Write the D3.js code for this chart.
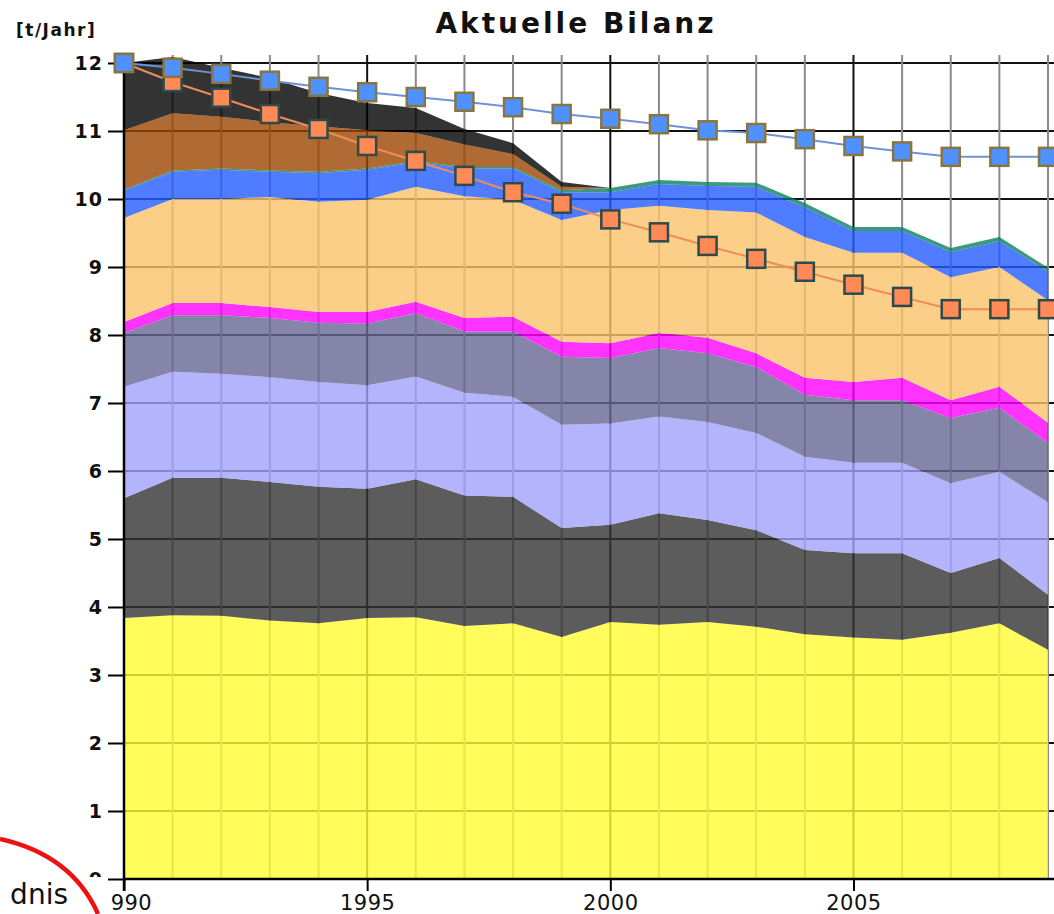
<!DOCTYPE html>
<html>
<head>
<meta charset="utf-8">
<script src="https://cdn.jsdelivr.net/npm/d3@7/dist/d3.min.js"></script>
<style>
  html, body { margin: 0; padding: 0; background: #fff; overflow: hidden; }
  svg { display: block; }
</style>
</head>
<body>
<div id="chart"></div>
<script>
// Data (t/Jahr), 1990 - 2009
var years = d3.range(1990, 2010);

var yellowVals  = [3.84, 3.88, 3.87, 3.80, 3.76, 3.84, 3.85, 3.72, 3.76, 3.56, 3.78, 3.74, 3.78, 3.71, 3.60, 3.55, 3.52, 3.62, 3.76, 3.37];
var darkVals    = [1.76, 2.02, 2.03, 2.04, 2.01, 1.90, 2.03, 1.92, 1.86, 1.60, 1.43, 1.64, 1.50, 1.42, 1.24, 1.24, 1.27, 0.88, 0.96, 0.81];
var lavVals     = [1.64, 1.56, 1.53, 1.54, 1.54, 1.52, 1.51, 1.51, 1.47, 1.52, 1.49, 1.42, 1.44, 1.43, 1.37, 1.33, 1.33, 1.32, 1.27, 1.36];
var purpleVals  = [0.79, 0.83, 0.86, 0.87, 0.87, 0.91, 0.93, 0.90, 0.96, 1.00, 0.96, 1.01, 1.01, 0.97, 0.91, 0.92, 0.92, 0.96, 0.94, 0.87];
var magentaVals = [0.16, 0.18, 0.18, 0.16, 0.16, 0.17, 0.17, 0.20, 0.22, 0.22, 0.22, 0.22, 0.23, 0.20, 0.25, 0.27, 0.33, 0.26, 0.31, 0.30];
var orangeVals  = [1.53, 1.53, 1.53, 1.62, 1.62, 1.65, 1.69, 1.79, 1.72, 1.79, 1.96, 1.87, 1.88, 2.07, 2.07, 1.90, 1.84, 1.81, 1.76, 1.80];
var blueVals    = [0.40, 0.40, 0.43, 0.37, 0.42, 0.44, 0.36, 0.41, 0.46, 0.41, 0.26, 0.32, 0.35, 0.38, 0.44, 0.32, 0.32, 0.37, 0.38, 0.42];
var tealVals    = [0.02, 0.02, 0.02, 0.02, 0.02, 0.02, 0.02, 0.02, 0.02, 0.03, 0.06, 0.06, 0.06, 0.06, 0.06, 0.06, 0.06, 0.06, 0.06, 0.06];
var brownVals   = [0.87, 0.84, 0.76, 0.71, 0.67, 0.56, 0.41, 0.33, 0.19, 0.05, 0, 0, 0, 0, 0, 0, 0, 0, 0, 0];
var blackVals   = [0.99, 0.83, 0.72, 0.65, 0.49, 0.40, 0.37, 0.23, 0.16, 0.07, 0, 0, 0, 0, 0, 0, 0, 0, 0, 0];

// Lines with square markers
var blueLineVals   = [12.0, 11.93, 11.84, 11.74, 11.65, 11.57, 11.50, 11.43, 11.35, 11.25, 11.18, 11.10, 11.01, 10.97, 10.88, 10.78, 10.70, 10.62, 10.62, 10.62];
var orangeLineVals = [12.0, 11.72, 11.49, 11.25, 11.03, 10.78, 10.56, 10.34, 10.10, 9.93, 9.70, 9.51, 9.31, 9.12, 8.93, 8.74, 8.56, 8.38, 8.38, 8.38];

var layerKeys   = ["yellow", "dark", "lav", "purple", "magenta", "orange", "blue", "teal", "brown", "black"];
var layerColors = ["#fffb33", "#333333", "#a1a1fb", "#666695", "#ff00ff", "#fbc36a", "#245dff", "#098160", "#9c4500", "#000000"];

var yTicks = d3.range(0, 13);
var xLabelYears = [1990, 1995, 2000, 2005];

class StackChart {

  constructor(_parentElement, _width, _height) {
    this.parentElement = _parentElement;
    this.svgWidth = _width;
    this.svgHeight = _height;
    this.initializeChart();
  }

  initializeChart() {
    var vis = this;

    vis.svg = d3.select(vis.parentElement)
      .append("svg")
      .attr("width", vis.svgWidth)
      .attr("height", vis.svgHeight);

    vis.svg.append("rect").attr("width", vis.svgWidth).attr("height", vis.svgHeight).attr("fill", "#fff");

    // Scales
    vis.xScale = d3.scaleLinear().domain([1990, 2009]).range([124, 1048]);
    vis.yScale = d3.scaleLinear().domain([0, 12]).range([879, 63]);

    // Build table for the stack
    var series = [yellowVals, darkVals, lavVals, purpleVals, magentaVals, orangeVals, blueVals, tealVals, brownVals, blackVals];
    vis.table = years.map(function(yr, i) {
      var row = {year: yr};
      layerKeys.forEach(function(k, j) { row[k] = series[j][i]; });
      return row;
    });

    vis.updateChart();
  }

  updateChart() {
    var vis = this;
    var x = vis.xScale, y = vis.yScale;
    var defs = vis.svg.append("defs");

    // Grid (drawn behind the translucent areas)
    var grid = vis.svg.append("g").attr("class", "grid");
    grid.selectAll(".hgrid").data(yTicks).enter().append("line")
      .attr("x1", x(1990)).attr("x2", 1054)
      .attr("y1", d => y(d)).attr("y2", d => y(d))
      .attr("stroke", "#111").attr("stroke-width", 2);
    grid.selectAll(".vgrid").data(years).enter().append("line")
      .attr("x1", d => x(d)).attr("x2", d => x(d))
      .attr("y1", 55).attr("y2", y(0))
      .attr("stroke", d => (d % 5 === 0) ? "#111" : "#8a8a8a")
      .attr("stroke-width", 2);

    // Stacked areas
    var stack = d3.stack().keys(layerKeys);
    var layers = stack(vis.table);
    var area = d3.area()
      .x(d => x(d.data.year))
      .y0(d => y(d[0]))
      .y1(d => y(d[1]));

    vis.svg.append("g").selectAll("path").data(layers).enter().append("path")
      .attr("d", area)
      .attr("fill", (d, i) => layerColors[i])
      .attr("fill-opacity", 0.8);

    // Axes lines
    vis.svg.append("line").attr("x1", x(1990)).attr("x2", x(1990)).attr("y1", y(12)).attr("y2", 891)
      .attr("stroke", "#000").attr("stroke-width", 2.5);
    vis.svg.append("line").attr("x1", x(1990)).attr("x2", 1054).attr("y1", y(0)).attr("y2", y(0))
      .attr("stroke", "#000").attr("stroke-width", 2.5);

    // Y axis: tick marks
    var yTickAxis = vis.svg.append("g").attr("transform", "translate(" + x(1990) + ",0)")
      .call(d3.axisLeft(y).tickValues(yTicks).tickSize(16).tickFormat(""));
    yTickAxis.select(".domain").remove();
    yTickAxis.selectAll("line").attr("stroke", "#000").attr("stroke-width", 2);

    // Y axis: labels (bottom one is hidden under the x label strip)
    defs.append("clipPath").attr("id", "yclip")
      .append("rect").attr("x", -200).attr("y", 0).attr("width", 300).attr("height", 877);
    var yAxis = vis.svg.append("g").attr("transform", "translate(" + x(1990) + ",0)")
      .attr("clip-path", "url(#yclip)")
      .call(d3.axisLeft(y).tickValues(yTicks).tickSize(0).tickPadding(21).tickFormat(d3.format("d")));
    yAxis.select(".domain").remove();
    yAxis.selectAll("text").attr("font-family", "DejaVu Sans, sans-serif").attr("font-size", "19px")
      .attr("font-weight", "bold").attr("fill", "#111").attr("letter-spacing", "1px");

    // X axis ticks + labels
    defs.append("clipPath").attr("id", "xclip")
      .append("rect").attr("x", 109 - 124).attr("y", -20).attr("width", 1000).attr("height", 100);
    var xAxis = vis.svg.append("g").attr("transform", "translate(0," + y(0) + ")")
      .call(d3.axisBottom(x).tickValues(xLabelYears).tickSize(12).tickPadding(4).tickFormat(d3.format("d")));
    xAxis.select(".domain").remove();
    xAxis.selectAll("line").attr("stroke", "#000").attr("stroke-width", 2);
    xAxis.selectAll("text").attr("font-family", "DejaVu Sans, sans-serif").attr("font-size", "21px")
      .attr("fill", "#111").attr("letter-spacing", "0.5px");
    xAxis.selectAll(".tick").filter(d => d === 1990).select("text").attr("clip-path", "url(#xclip)");

    // Lines with squares
    var line = d3.line().x(d => x(d.year)).y(d => y(d.v));
    var drawSeries = function(vals, lineColor, fill, edge) {
      var pts = years.map((yr, i) => ({year: yr, v: vals[i]}));
      vis.svg.append("path").datum(pts).attr("d", line)
        .attr("fill", "none").attr("stroke", lineColor).attr("stroke-width", 2);
      vis.svg.append("g").selectAll("rect").data(pts).enter().append("rect")
        .attr("x", d => x(d.year) - 9).attr("y", d => y(d.v) - 9)
        .attr("width", 18).attr("height", 18)
        .attr("fill", fill).attr("stroke", edge).attr("stroke-width", 2.5);
    };
    drawSeries(orangeLineVals, "#f08c5c", "#ff8a55", "#2f4a4c");
    drawSeries(blueLineVals, "#6e92d8", "#4f92ff", "#8a7440");

    // Title and unit
    vis.svg.append("text").attr("x", 576).attr("y", 33).attr("text-anchor", "middle")
      .attr("font-family", "DejaVu Sans, sans-serif").attr("font-size", "28px").attr("font-weight", "bold")
      .attr("letter-spacing", "3px").attr("fill", "#111").text("Aktuelle Bilanz");
    vis.svg.append("text").attr("x", 16).attr("y", 36)
      .attr("font-family", "DejaVu Sans, sans-serif").attr("font-size", "17px").attr("font-weight", "bold")
      .attr("letter-spacing", "1.5px").attr("fill", "#111").text("[t/Jahr]");

    // Annotation remnants at lower left
    vis.svg.append("text").attr("x", 68).attr("y", 904).attr("text-anchor", "end")
      .attr("font-family", "DejaVu Sans, sans-serif").attr("font-size", "28px").attr("fill", "#111").text("dnis");
    vis.svg.append("path").attr("d", "M0,839 Q72,855 98,914")
      .attr("fill", "none").attr("stroke", "#ee1111").attr("stroke-width", 4.5);
  }
}

new StackChart("#chart", 1054, 914);
</script>
</body>
</html>
